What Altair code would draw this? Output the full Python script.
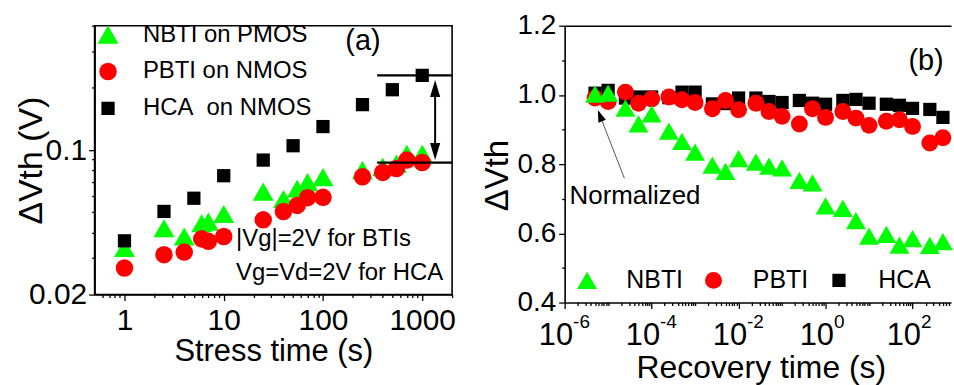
import altair as alt
import pandas as pd

FONT = "Liberation Sans, Arial, Helvetica, sans-serif"

# ---------------- Panel (a): stress ----------------
series_a = ["NBTI on PMOS", "PBTI on NMOS", "HCA\u00a0 on NMOS"]
t_nbti_a = [1, 2.5, 4, 6, 7, 10, 25, 40, 55, 70, 100, 250, 400, 550, 700, 1000]
v_nbti_a = [0.0336, 0.0419, 0.0382, 0.0443, 0.0451, 0.0491, 0.063, 0.058, 0.065,
            0.070, 0.074, 0.080, 0.083, 0.086, 0.096, 0.096]
t_pbti_a = [1, 2.5, 4, 6, 7, 10, 25, 40, 55, 70, 100, 250, 400, 550, 700, 1000]
v_pbti_a = [0.0269, 0.0312, 0.0321, 0.0372, 0.0362, 0.0382, 0.046, 0.0505, 0.054,
            0.0589, 0.0591, 0.0743, 0.078, 0.0815, 0.0895, 0.0870]
t_hca_a = [1, 2.5, 5, 10, 25, 50, 100, 250, 500, 1000]
v_hca_a = [0.0364, 0.0505, 0.0585, 0.0752, 0.0895, 0.105, 0.130, 0.166, 0.196, 0.230]

# bracket lines and double arrow (data coordinates)
bracket_t = [351, 2000]
bracket_v = [0.2301, 0.0870]
arrow_t = 1349
arrow_v = [0.1986, 0.0985]

notes_a_t = [13.3, 13.3]
notes_a_v = [0.0370, 0.02538]
notes_a_txt = ["|Vg|=2V for BTIs", "Vg=Vd=2V for HCA"]
label_a = {"t": 253, "v": 0.3357, "s": "(a)"}

xticks_a = [1, 10, 100, 1000]
xminor_a = [0.6, 0.7, 0.8, 0.9, 2, 3, 4, 5, 6, 7, 8, 9, 20, 30, 40, 50, 60, 70, 80, 90,
            200, 300, 400, 500, 600, 700, 800, 900, 2000]
yticks_a = [0.02, 0.1]
yminor_a = [0.03, 0.04, 0.05, 0.06, 0.07, 0.08, 0.09, 0.2, 0.3, 0.4]

# ---------------- Panel (b): recovery ----------------
series_b = ["NBTI", "PBTI", "HCA"]
t_b = [5e-6, 1e-5, 2.5e-5, 5e-5, 1e-4, 2.5e-4, 5e-4, 1e-3, 2.5e-3, 5e-3, 1e-2, 2.5e-2,
       5e-2, 0.1, 0.25, 0.5, 1, 2.5, 5, 10, 25, 50, 100, 250, 500]
v_nbti_b = [1.002, 1.005, 0.962, 0.916, 0.945, 0.895, 0.866, 0.835, 0.797, 0.779, 0.816,
            0.806, 0.794, 0.789, 0.753, 0.746, 0.679, 0.672, 0.637, 0.592, 0.597, 0.566,
            0.585, 0.565, 0.576]
v_pbti_b = [0.991, 0.981, 1.008, 0.976, 0.988, 0.994, 0.986, 0.978, 0.960, 0.984, 0.957,
            0.976, 0.952, 0.938, 0.916, 0.960, 0.935, 0.952, 0.933, 0.912, 0.924, 0.928,
            0.909, 0.861, 0.876]
v_hca_b = [1.005, 1.013, 0.991, 0.994, 0.994, 0.992, 1.008, 1.008, 0.974, 0.975, 0.991,
           0.991, 0.981, 0.978, 0.984, 0.976, 0.973, 0.984, 0.987, 0.976, 0.973, 0.970,
           0.961, 0.958, 0.935]

xdec_b = [1e-6, 1e-4, 1e-2, 1, 100]
xsup_b = ["-6", "-4", "-2", "0", "2"]
xminor_b = [m * 10.0 ** d for d in range(-6, 3) for m in range(1, 10)
            if not (m == 1 and d % 2 == 0) and m * 10.0 ** d < 760]
yticks_b = [0.4, 0.6, 0.8, 1.0, 1.2]
yminor_b = [0.5, 0.7, 0.9, 1.1]

norm_line = {"t": 6.5e-6, "v": 0.940, "t2": 2.366e-5, "v2": 0.759}
norm_head = {"t": 6.5e-6, "v": 0.940}
label_b = {"t": 205, "v": 1.098, "s": "(b)"}
norm_txt = {"t": 1.30e-6, "v": 0.707, "s": "Normalized"}

colors = ["#00ff00", "#ff0000", "#000000"]
shapes = ["triangle-up", "circle", "square"]

W_A, H_A = 359, 270
W_B, H_B = 388, 278

xa = alt.Scale(type="log", domain=[0.5, 2000], nice=False)
ya = alt.Scale(type="log", domain=[0.02, 0.4], nice=False)
xb = alt.Scale(type="log", domain=[1e-6, 767], nice=False)
yb = alt.Scale(type="linear", domain=[0.4, 1.2], nice=False, zero=False)

# ---------------- build panel (a) ----------------
df_a = pd.DataFrame({
    "t": t_nbti_a + t_pbti_a + t_hca_a,
    "v": v_nbti_a + v_pbti_a + v_hca_a,
    "series": [series_a[0]] * len(t_nbti_a) + [series_a[1]] * len(t_pbti_a)
              + [series_a[2]] * len(t_hca_a),
})

leg_a = alt.Legend(title=None, orient="none", legendX=1.5, legendY=-3,
                   direction="vertical", labelFontSize=24, labelOffset=23,
                   rowPadding=13, symbolStrokeWidth=0, symbolOpacity=1, padding=0,
                   labelLimit=400)

pts_a = alt.Chart(df_a).mark_point(filled=True, opacity=1, strokeWidth=0).encode(
    x=alt.X("t:Q", scale=xa, axis=alt.Axis(
        orient="bottom", values=xticks_a, format="d", tickSize=6, labelPadding=5,
        labelFontSize=30, title="Stress time (s)", titleFontSize=31, titleY=42)),
    y=alt.Y("v:Q", scale=ya, axis=alt.Axis(
        orient="left", values=yticks_a, format="~g", tickSize=6, labelPadding=2,
        labelFontSize=30, title="ΔVth (V)", titleFontSize=34, titleX=-46)),
    color=alt.Color("series:N", scale=alt.Scale(domain=series_a, range=colors), legend=leg_a),
    shape=alt.Shape("series:N", scale=alt.Scale(domain=series_a, range=shapes), legend=leg_a),
    size=alt.Size("series:N", scale=alt.Scale(domain=series_a, range=[441, 177, 225]),
                  legend=leg_a),
)

df_br = pd.DataFrame({"t": [bracket_t[0]] * 2, "t2": [bracket_t[1]] * 2, "v": bracket_v})
bracket = alt.Chart(df_br).mark_rule(color="black", strokeWidth=2.2).encode(
    x=alt.X("t:Q", scale=xa, axis=alt.Axis(orient="bottom", values=xminor_a, tickSize=3,
                                           labels=False, domain=False, title=None)),
    x2="t2:Q",
    y=alt.Y("v:Q", scale=ya, axis=alt.Axis(orient="left", values=yminor_a, tickSize=3,
                                           labels=False, domain=False, title=None)),
)

df_sh = pd.DataFrame({"t": [arrow_t], "v": [arrow_v[0]], "v2": [arrow_v[1]]})
shaft = alt.Chart(df_sh).mark_rule(color="black", strokeWidth=2).encode(
    x=alt.X("t:Q", scale=xa, axis=None),
    y=alt.Y("v:Q", scale=ya, axis=None), y2="v2:Q")

head_up = alt.Chart(pd.DataFrame({"t": [arrow_t], "v": [arrow_v[0]]})).mark_point(
    shape="M0,-1L-0.6,1L0.6,1Z", filled=True, color="black", opacity=1, size=289,
    strokeWidth=0).encode(x=alt.X("t:Q", scale=xa, axis=None),
                          y=alt.Y("v:Q", scale=ya, axis=None))
head_dn = alt.Chart(pd.DataFrame({"t": [arrow_t], "v": [arrow_v[1]]})).mark_point(
    shape="M0,1L-0.6,-1L0.6,-1Z", filled=True, color="black", opacity=1, size=289,
    strokeWidth=0).encode(x=alt.X("t:Q", scale=xa, axis=None),
                          y=alt.Y("v:Q", scale=ya, axis=None))

notes_a = alt.Chart(pd.DataFrame({"t": notes_a_t, "v": notes_a_v, "s": notes_a_txt})).mark_text(
    align="left", baseline="middle", fontSize=24, font=FONT, color="black").encode(
    x=alt.X("t:Q", scale=xa, axis=None), y=alt.Y("v:Q", scale=ya, axis=None), text="s:N")

lab_a = alt.Chart(pd.DataFrame([label_a])).mark_text(
    align="center", baseline="middle", fontSize=29, font=FONT, color="black").encode(
    x=alt.X("t:Q", scale=xa, axis=None), y=alt.Y("v:Q", scale=ya, axis=None), text="s:N")

chart_a = alt.layer(pts_a, bracket, shaft, head_up, head_dn, notes_a, lab_a).resolve_axis(
    x="independent", y="independent").properties(width=W_A, height=H_A)

# ---------------- build panel (b) ----------------
df_b = pd.DataFrame({
    "t": t_b * 3,
    "v": v_hca_b + v_pbti_b + v_nbti_b,
    "series": [series_b[2]] * len(t_b) + [series_b[1]] * len(t_b) + [series_b[0]] * len(t_b),
})

leg_b = alt.Legend(title=None, orient="none", legendX=10, legendY=243,
                   direction="horizontal", labelFontSize=25, labelOffset=27,
                   columnPadding=18, symbolStrokeWidth=0, symbolOpacity=1, padding=0,
                   labelLimit=400)

pts_b = alt.Chart(df_b).mark_point(filled=True, opacity=1, strokeWidth=0).encode(
    x=alt.X("t:Q", scale=xb, axis=alt.Axis(
        orient="bottom", values=xdec_b, labelExpr="'10'", labelAlign="right",
        labelOffset=8, tickSize=6, labelPadding=12, labelFontSize=31,
        title="Recovery time (s)", titleFontSize=32, titleX=197, titleY=50)),
    y=alt.Y("v:Q", scale=yb, axis=alt.Axis(
        orient="left", values=yticks_b, format=".1f", tickSize=6, labelPadding=3,
        labelFontSize=28, title="ΔVth", titleFontSize=33, titleX=-50, titleY=150)),
    color=alt.Color("series:N", scale=alt.Scale(domain=series_b, range=colors), legend=leg_b),
    shape=alt.Shape("series:N", scale=alt.Scale(domain=series_b, range=shapes), legend=leg_b),
    size=alt.Size("series:N", scale=alt.Scale(domain=series_b, range=[400, 177, 178]),
                  legend=leg_b),
)

sup_b = alt.Chart(pd.DataFrame({"t": xdec_b, "s": xsup_b})).mark_text(
    align="left", baseline="top", fontSize=19, font=FONT, color="black", dx=8.5).encode(
    x=alt.X("t:Q", scale=xb, axis=alt.Axis(orient="bottom", values=xminor_b, tickSize=3,
                                           labels=False, domain=False, title=None)),
    y=alt.value(H_B + 10.5), text="s:N")

nline = alt.Chart(pd.DataFrame([norm_line])).mark_rule(color="#555555", strokeWidth=1).encode(
    x=alt.X("t:Q", scale=xb, axis=alt.Axis(orient="top", ticks=False, labels=False,
                                           domain=True, title=None)),
    x2="t2:Q",
    y=alt.Y("v:Q", scale=yb, axis=alt.Axis(orient="left", values=yminor_b, tickSize=3,
                                           labels=False, domain=False, title=None)),
    y2="v2:Q")

nhead = alt.Chart(pd.DataFrame([norm_head])).mark_point(
    shape="M0,-1L-0.67,1L0.67,1Z", filled=True, color="black", opacity=1, size=144,
    angle=338.7, strokeWidth=0).encode(
    x=alt.X("t:Q", scale=xb, axis=None), y=alt.Y("v:Q", scale=yb, axis=None))

ntext = alt.Chart(pd.DataFrame([norm_txt])).mark_text(
    align="left", baseline="middle", fontSize=26, font=FONT, color="black").encode(
    x=alt.X("t:Q", scale=xb, axis=None), y=alt.Y("v:Q", scale=yb, axis=None), text="s:N")

lab_b = alt.Chart(pd.DataFrame([label_b])).mark_text(
    align="center", baseline="middle", fontSize=29, font=FONT, color="black").encode(
    x=alt.X("t:Q", scale=xb, axis=None), y=alt.Y("v:Q", scale=yb, axis=None), text="s:N")

chart_b = alt.layer(pts_b, sup_b, nline, nhead, ntext, lab_b).resolve_axis(
    x="independent", y="independent").properties(
    width=W_B, height=H_B, view=alt.ViewBackground(stroke="transparent"))

chart = alt.hconcat(chart_a, chart_b, spacing=113, bounds="flush").resolve_scale(
    color="independent", shape="independent", size="independent"
).properties(
    padding={"left": 14, "top": 10, "right": 0, "bottom": 0}, background="white"
).configure_view(stroke="black", strokeWidth=1.6).configure_axis(
    domainColor="black", domainWidth=1.6, tickColor="black", tickWidth=1.3,
    labelColor="black", titleColor="black", labelFont=FONT, titleFont=FONT,
    titleFontWeight="normal", grid=False, labelFlush=False, labelOverlap=False
).configure_legend(labelFont=FONT, labelColor="black")

chart.save("out.html", embed_options={"renderer": "svg", "actions": False})
